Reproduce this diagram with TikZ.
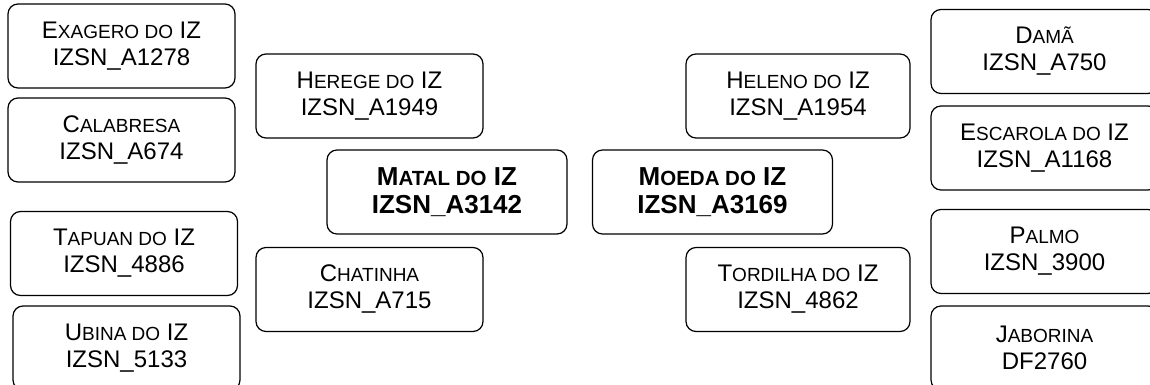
\documentclass[tikz,border=0pt]{standalone}
\usepackage{fontspec}
\setmainfont{Liberation Sans}
\usepackage{tikz}
\def\smcsize{19}
\newcommand{\smc}[1]{{\fontsize{\smcsize}{27}\selectfont #1}}
\tikzset{
  nd/.style={draw,rounded corners=10pt,line width=1.2pt,align=center,
    minimum width=227pt,minimum height=84pt,inner sep=0pt,
    font=\fontsize{24}{27}\selectfont},
  hub/.style={nd,minimum width=240pt,
    font=\def\smcsize{20.5}\fontsize{26}{28}\selectfont\bfseries},
}
\begin{document}
\begin{tikzpicture}[x=1pt,y=1pt]
\useasboundingbox (0,0) rectangle (1150,-385);
\node[nd] (exagero) at (121.5,-46){E\smc{XAGERO DO} IZ\\IZSN\_A1278};
\node[nd] (calabresa) at (121.5,-140){C\smc{ALABRESA}\\IZSN\_A674};
\node[nd] (tapuan) at (124,-253.5){T\smc{APUAN DO} IZ\\IZSN\_4886};
\node[nd] (ubina) at (126.5,-348){U\smc{BINA DO} IZ\\IZSN\_5133};
\node[nd] (herege) at (369.5,-96){H\smc{EREGE DO} IZ\\IZSN\_A1949};
\node[hub] (matal) at (447,-192){M\smc{ATAL DO} IZ\\IZSN\_A3142};
\node[nd] (chatinha) at (369.5,-289.5){C\smc{HATINHA}\\IZSN\_A715};
\node[nd,minimum width=224pt] (heleno) at (798,-96){H\smc{ELENO DO} IZ\\IZSN\_A1954};
\node[hub] (moeda) at (712.5,-192){M\smc{OEDA DO} IZ\\IZSN\_A3169};
\node[nd,minimum width=224pt] (tordilha) at (798,-289.5){T\smc{ORDILHA DO} IZ\\IZSN\_4862};
\node[nd] (dama) at (1044.5,-51.5){D\smc{AMÃ}\\IZSN\_A750};
\node[nd] (escarola) at (1044.5,-148){E\smc{SCAROLA DO} IZ\\IZSN\_A1168};
\node[nd] (palmo) at (1044.5,-251.5){P\smc{ALMO}\\IZSN\_3900};
\node[nd] (jaborina) at (1044.5,-348){J\smc{ABORINA}\\DF2760};
\end{tikzpicture}
\end{document}
